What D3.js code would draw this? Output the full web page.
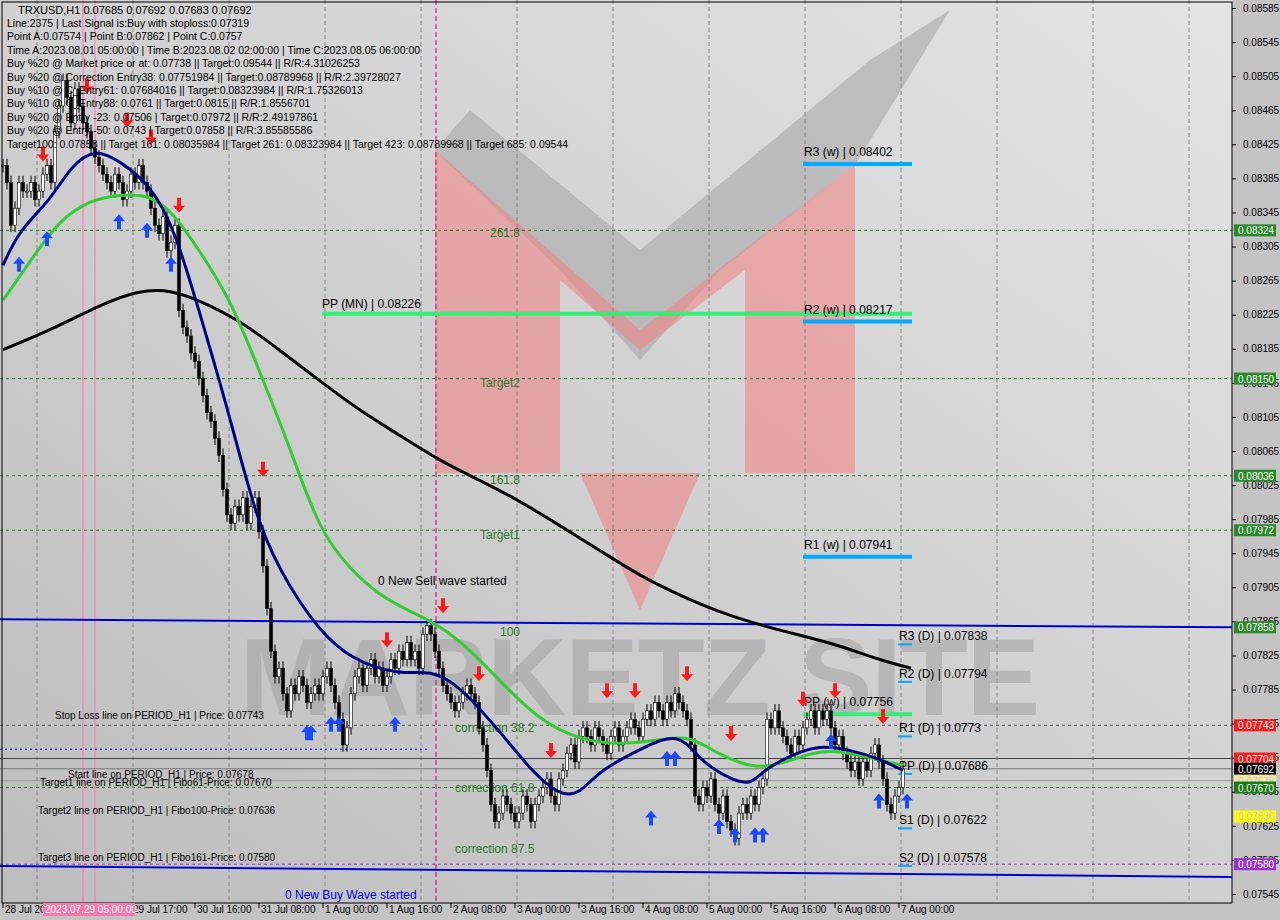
<!DOCTYPE html>
<meta charset="utf-8">
<script src="https://d3js.org/d3.v7.min.js"></script>
<style>body{margin:0;background:#fff}text{font-family:"Liberation Sans",Arial,sans-serif}</style>
<div id="chart"></div>
<script>
// closes (price x 1e5), one per H1 bar
var closes = [8400,8380,8330,8350,8380,8370,8370,8380,8360,8370,8390,8400,8380,
 8440,8470,8500,8480,8450,8490,8470,8450,8440,8420,
 8410,8400,8390,8380,8370,8390,8380,8360,8370,8390,8380,8400,8380,
 8370,8350,8330,8320,8340,8300,8310,8330,
 8230,8210,8200,8180,8170,8150,8130,8110,8100,8080,8060,8020,7990,7980,8000,7990,8010,7980,8000,8010,
 7970,7930,7880,7830,7800,7810,7780,7760,7790,7780,7800,7790,7770,7780,7790,7780,7800,7810,7790,7770,7750,7720,
 7740,7780,7800,7810,7790,7810,7820,7800,7810,7790,7800,7820,7810,7830,7820,7840,7820,7830,7810,7850,7860,7850,7830,
 7810,7790,7780,7770,7760,7770,7780,7790,7780,7770,7740,7720,7690,7650,7630,7640,7660,7650,7640,7630,7640,7660,7650,7630,7650,
 7660,7670,7680,7660,7650,7680,7690,7710,7720,7700,7730,7740,7730,7720,7740,7730,7720,7710,7730,7740,7720,
 7730,7740,7750,7740,7730,7750,7760,7750,7770,7760,7750,7770,7760,7780,7770,7760,7750,7720,7660,7650,7670,7660,7680,
 7650,7640,7660,7630,7620,7610,7640,7650,7640,7660,7650,7670,7680,7750,7740,7760,7740,7730,7720,7710,7730,7720,7740,7750,7760,
 7740,7760,7750,7760,7740,7720,7730,7710,7700,7690,7700,7680,7700,7690,7710,7720,7700,7680,7650,7640,7660,7670,7692];
var timeLabels = ["28 Jul 2023","29 Jul 01:00","29 Jul 17:00","30 Jul 16:00","31 Jul 08:00","1 Aug 00:00","1 Aug 16:00",
 "2 Aug 08:00","3 Aug 00:00","3 Aug 16:00","4 Aug 08:00","5 Aug 00:00","5 Aug 16:00","6 Aug 08:00","7 Aug 00:00"];
var maBlue = [[0,8283],[4,8324],[12,8360],[17,8400],[23,8420],[29,8406],[37,8377],[43,8324],[49,8230],[57,8101],[64,7972],[72,7902],[79,7855],[87,7820],[99,7802],[107,7808],[114,7790],[124,7737],[132,7690],[139,7661],[144,7661],[149,7690],[159,7714],[169,7737],[174,7702],[182,7679],[187,7673],[190,7690],[197,7708],[204,7720],[212,7714],[219,7704],[225,7690]];
var maGreen = [[0,8242],[7,8289],[14,8336],[22,8360],[29,8366],[37,8366],[43,8342],[49,8301],[57,8242],[64,8160],[72,8066],[79,7972],[87,7925],[94,7896],[102,7876],[109,7861],[117,7831],[124,7796],[134,7749],[144,7726],[154,7720],[164,7726],[172,7731],[179,7708],[189,7690],[197,7702],[204,7714],[212,7711],[219,7702],[225,7696]];
var maBlack = [[0,8184],[12,8207],[24,8236],[34,8254],[42,8254],[49,8242],[59,8219],[69,8184],[79,8148],[89,8113],[99,8084],[109,8054],[119,8031],[129,8007],[139,7978],[149,7949],[159,7919],[169,7896],[179,7876],[189,7861],[199,7849],[209,7837],[219,7820],[227,7810]];
var levelsDashed = [8324,8150,8036,7972];
var weekly = [["R3 (w) | 0.08402",8402,"#00aaff"],["R2 (w) | 0.08217",8217,"#00aaff"],["R1 (w) | 0.07941",7941,"#00aaff"],["PP (w) | 0.07756",7756,"#33ee77"]];
var daily = [["R3 (D) | 0.07838",7838],["R2 (D) | 0.07794",7794],["R1 (D) | 0.0773",7730],["PP (D) | 0.07686",7686],["S1 (D) | 0.07622",7622],["S2 (D) | 0.07578",7578]];
var fibTexts = [["261.8",8316,490],["Target2",8140,480],["161.8",8026,490],["Target1",7962,480],["100",7848,500],["correction 38.2",7735,455],["correction 61.8",7665,455],["correction 87.5",7593,455]];
var tagLabels = [["0.08324",8324,"#2a8a2a","#fff"],["0.08150",8150,"#2a8a2a","#fff"],["0.08036",8036,"#2a8a2a","#fff"],["0.07972",7972,"#2a8a2a","#fff"],["0.07858",7858,"#2a8a2a","#fff"],["0.07743",7743,"#ff1a1a","#fff"],["0.07704",7704,"#ff1a1a","#fff"],["0.07692",7692,"#000","#fff"],["0.07678",7678,"#f5e6a0","#ccc"],["0.07670",7670,"#1a7a1a","#fff"],["0.07636",7636,"#ffff00","#ccc"],["0.07580",7580,"#9933cc","#fff"]];
var header = ["Line:2375 | Last Signal is:Buy with stoploss:0.07319","Point A:0.07574 | Point B:0.07862 | Point C:0.0757",
 "Time A:2023.08.01 05:00:00 | Time B:2023.08.02 02:00:00 | Time C:2023.08.05 06:00:00",
 "Buy %20 @ Market price or at: 0.07738 || Target:0.09544 || R/R:4.31026253",
 "Buy %20 @ Correction Entry38: 0.07751984 || Target:0.08789968 || R/R:2.39728027",
 "Buy %10 @ C_Entry61: 0.07684016 || Target:0.08323984 || R/R:1.75326013",
 "Buy %10 @ C_Entry88: 0.0761 || Target:0.0815 || R/R:1.8556701",
 "Buy %20 @ Entry -23: 0.07506 | Target:0.07972 || R/R:2.49197861",
 "Buy %20 @ Entry -50: 0.0743 | Target:0.07858 || R/R:3.85585586",
 "Target100: 0.07858 || Target 161: 0.08035984 || Target 261: 0.08323984 || Target 423: 0.08789968 || Target 685: 0.09544"];
var upArrows = [[4,8300],[11,8330],[29,8350],[36,8340],[42,8300],[76,7750],[77,7750],[82,7760],[84,7760],[98,7760],[162,7650],[166,7720],[168,7720],[179,7640],[183,7630],[188,7630],[190,7630],[207,7740],[219,7670],[226,7670]];
var downArrows = [[10,8400],[21,8480],[31,8440],[37,8420],[44,8340],[65,8030],[96,7830],[110,7870],[119,7790],[137,7700],[151,7770],[158,7770],[171,7790],[182,7720],[200,7760],[208,7770],[220,7740]];

var W = 1280, H = 920, PW = 1232, PH = 903;
var svg = d3.select("#chart").append("svg").attr("width", W).attr("height", H);
var x = d3.scaleLinear().domain([0, 1]).range([3, 7]);
var y = d3.scaleLinear().domain([7545, 8585]).range([894, 8]);

var defs = svg.append("defs");
var g = defs.append("linearGradient").attr("id", "bg").attr("x1", 0).attr("y1", 1).attr("x2", 1).attr("y2", 0);
g.append("stop").attr("offset", 0).attr("stop-color", "#bdbdbd");
g.append("stop").attr("offset", 1).attr("stop-color", "#e4e4e4");
defs.append("clipPath").attr("id", "clip").append("rect").attr("width", PW).attr("height", PH);

svg.append("rect").attr("width", W).attr("height", H).attr("fill", "#c4c4c4");
svg.append("rect").attr("width", PW).attr("height", PH).attr("fill", "url(#bg)");
var plot = svg.append("g").attr("clip-path", "url(#clip)");

// watermark
plot.append("path").attr("d", "M435,150L560,270L640,360L720,270L855,165L950,10L870,60L640,250L470,110Z").attr("fill", "#a9a9a9").attr("opacity", 0.6);
plot.append("path").attr("d", "M435,150L435,473L560,473L560,280L640,350L745,270L745,473L855,473L855,165L640,330Z").attr("fill", "#f08080").attr("opacity", 0.55);
plot.append("path").attr("d", "M580,473L640,610L700,473Z").attr("fill", "#f08080").attr("opacity", 0.55);
plot.append("text").attr("x", 240).attr("y", 715).attr("font-size", 110).attr("font-weight", "bold").attr("fill", "#999").attr("opacity", 0.45).attr("textLength", 800).text("MARKETZ SITE");

// grid verticals
d3.range(37, PW, 96).forEach(function (v) {
  plot.append("line").attr("x1", v).attr("x2", v).attr("y1", 0).attr("y2", PH).attr("stroke", "#888").attr("stroke-dasharray", "4,3");
});
[83, 95].forEach(function (v) { plot.append("line").attr("x1", v).attr("x2", v).attr("y1", 0).attr("y2", PH).attr("stroke", "#ff77aa"); });
plot.append("line").attr("x1", 436).attr("x2", 436).attr("y1", 0).attr("y2", PH).attr("stroke", "#cc0066").attr("stroke-dasharray", "5,3");

levelsDashed.forEach(function (p) {
  plot.append("line").attr("x1", 0).attr("x2", PW).attr("y1", y(p)).attr("y2", y(p)).attr("stroke", "#2a7a2a").attr("stroke-dasharray", "3,3");
});
// other horizontal lines
plot.append("line").attr("x1", 0).attr("x2", PW).attr("y1", y(7743)).attr("y2", y(7743)).attr("stroke", "#555").attr("stroke-dasharray", "3,3");
plot.append("line").attr("x1", 0).attr("x2", PW).attr("y1", y(7704)).attr("y2", y(7704)).attr("stroke", "#444");
plot.append("line").attr("x1", 0).attr("x2", PW).attr("y1", y(7692)).attr("y2", y(7692)).attr("stroke", "#777");
plot.append("line").attr("x1", 0).attr("x2", PW).attr("y1", y(7678)).attr("y2", y(7678)).attr("stroke", "#999");
plot.append("line").attr("x1", 0).attr("x2", PW).attr("y1", y(7670)).attr("y2", y(7670)).attr("stroke", "#1a7a1a").attr("stroke-dasharray", "3,3");
plot.append("line").attr("x1", 0).attr("x2", PW).attr("y1", y(7580)).attr("y2", y(7580)).attr("stroke", "#9933cc").attr("stroke-dasharray", "3,3");
plot.append("line").attr("x1", 0).attr("x2", 430).attr("y1", y(7715)).attr("y2", y(7715)).attr("stroke", "#0000dd").attr("stroke-dasharray", "2,3");
plot.append("line").attr("x1", 0).attr("x2", PW).attr("y1", y(7858) - 8).attr("y2", y(7858)).attr("stroke", "#0000cc").attr("stroke-width", 2);
plot.append("line").attr("x1", 0).attr("x2", PW).attr("y1", y(7578)).attr("y2", y(7565)).attr("stroke", "#0000cc").attr("stroke-width", 2);

// pivots
plot.append("line").attr("x1", 322).attr("x2", 912).attr("y1", y(8226)).attr("y2", y(8226)).attr("stroke", "#33ee77").attr("stroke-width", 4);
plot.append("text").attr("x", 322).attr("y", y(8226) - 6).attr("font-size", 12).text("PP (MN) | 0.08226");
weekly.forEach(function (d) {
  plot.append("line").attr("x1", 803).attr("x2", 912).attr("y1", y(d[1])).attr("y2", y(d[1])).attr("stroke", d[2]).attr("stroke-width", 4);
  plot.append("text").attr("x", 804).attr("y", y(d[1]) - 8).attr("font-size", 12).text(d[0]);
});
daily.forEach(function (d) {
  plot.append("line").attr("x1", 898).attr("x2", 912).attr("y1", y(d[1])).attr("y2", y(d[1])).attr("stroke", "#00aaff").attr("stroke-width", 2);
  plot.append("text").attr("x", 899).attr("y", y(d[1]) - 4).attr("font-size", 12).text(d[0]);
});
fibTexts.forEach(function (d) {
  plot.append("text").attr("x", d[2]).attr("y", y(d[1])).attr("font-size", 12).attr("fill", "#2a7a2a").text(d[0]);
});

// candles
var bars = closes.map(function (c, i) { return {i: i, o: i ? closes[i - 1] : c, c: c}; });
var cg = plot.append("g");
bars.forEach(function (d) {
  var hi = Math.max(d.o, d.c) + 8, lo = Math.min(d.o, d.c) - 8;
  cg.append("line").attr("x1", x(d.i)).attr("x2", x(d.i)).attr("y1", y(hi)).attr("y2", y(lo)).attr("stroke", "#000");
  cg.append("rect").attr("x", x(d.i) - 1.5).attr("width", 3)
    .attr("y", y(Math.max(d.o, d.c))).attr("height", Math.max(1, Math.abs(y(d.o) - y(d.c))))
    .attr("fill", d.c >= d.o ? "#fff" : "#000").attr("stroke", "#000").attr("stroke-width", 0.6);
});

var line = d3.line().x(function (d) { return x(d[0]); }).y(function (d) { return y(d[1]); }).curve(d3.curveBasis);
plot.append("path").attr("d", line(maBlack)).attr("fill", "none").attr("stroke", "#000").attr("stroke-width", 3);
plot.append("path").attr("d", line(maGreen)).attr("fill", "none").attr("stroke", "#33cc33").attr("stroke-width", 3);
plot.append("path").attr("d", line(maBlue)).attr("fill", "none").attr("stroke", "#000080").attr("stroke-width", 3);

upArrows.forEach(function (d) {
  plot.append("path").attr("transform", "translate(" + x(d[0]) + "," + (y(d[1]) + 14) + ")")
    .attr("d", "M0,-8L6,-1L2,-1L2,7L-2,7L-2,-1L-6,-1Z").attr("fill", "#1a4aff");
});
downArrows.forEach(function (d) {
  plot.append("path").attr("transform", "translate(" + x(d[0]) + "," + (y(d[1]) - 12) + ")")
    .attr("d", "M0,8L6,1L2,1L2,-7L-2,-7L-2,1L-6,1Z").attr("fill", "#ff1a1a");
});

// line texts
var lt = [["Stop Loss line on PERIOD_H1 | Price: 0.07743", 55, 719], ["Start line on PERIOD_H1 | Price: 0.07678", 68, 778],
  ["Target1 line on PERIOD_H1 | Fibo61-Price: 0.07670", 40, 786], ["Target2 line on PERIOD_H1 | Fibo100-Price: 0.07636", 38, 814],
  ["Target3 line on PERIOD_H1 | Fibo161-Price: 0.07580", 38, 861]];
lt.forEach(function (d) { plot.append("text").attr("x", d[1]).attr("y", d[2]).attr("font-size", 10).text(d[0]); });
plot.append("text").attr("x", 378).attr("y", 585).attr("font-size", 12).text("0 New Sell wave started");
plot.append("text").attr("x", 285).attr("y", 899).attr("font-size", 12).attr("fill", "#0000dd").text("0 New Buy Wave started");

// header
svg.append("text").attr("x", 18).attr("y", 14).attr("font-size", 11).text("TRXUSD,H1  0.07685 0.07692 0.07683 0.07692");
header.forEach(function (t, i) { svg.append("text").attr("x", 7).attr("y", 27 + i * 13.4).attr("font-size", 10.5).text(t); });

// frame and axes
svg.append("rect").attr("x", 2).attr("y", 2).attr("width", PW - 2).attr("height", PH - 2).attr("fill", "none").attr("stroke", "#000");
var ax = svg.append("g").attr("transform", "translate(" + PW + ",0)");
ax.call(d3.axisRight(y).tickValues(d3.range(7545, 8586, 40)).tickSize(4).tickFormat(function (v) { return "0." + String(Math.round(v)).padStart(5, "0"); }));
ax.select(".domain").remove();
ax.selectAll("text").attr("font-size", 10).attr("font-family", "Liberation Sans").attr("x", 11);
tagLabels.forEach(function (d) {
  svg.append("rect").attr("x", 1234).attr("y", y(d[1]) - 6).attr("width", 42).attr("height", 12).attr("fill", d[2]);
  svg.append("text").attr("x", 1238).attr("y", y(d[1]) + 4).attr("font-size", 10).attr("fill", d[3]).text(d[0]);
});
timeLabels.forEach(function (t, k) {
  if (k === 1) return; // hidden under the crosshair time box
  var px = x(k * 16);
  svg.append("line").attr("x1", px).attr("x2", px).attr("y1", PH).attr("y2", PH + 5).attr("stroke", "#000");
  svg.append("text").attr("x", px + 2).attr("y", 913).attr("font-size", 10).text(t);
});
svg.append("rect").attr("x", 43).attr("y", 903).attr("width", 92).attr("height", 13).attr("fill", "#ff77aa");
svg.append("text").attr("x", 45).attr("y", 913).attr("font-size", 10).attr("fill", "#fff").text("2023.07.29 05:00:00");
</script>
